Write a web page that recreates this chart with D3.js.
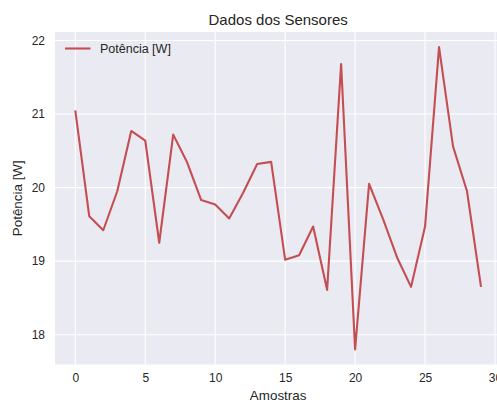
<!DOCTYPE html>
<html>
<head>
<meta charset="utf-8">
<script src="https://cdn.jsdelivr.net/npm/d3@7"></script>
<style>
  html, body { margin: 0; padding: 0; background: #ffffff; }
  svg { display: block; font-family: "Liberation Sans", Arial, sans-serif; }
</style>
</head>
<body>
<svg id="chart" width="497" height="403"></svg>
<script>
// Sensor readings: power per sample
const amostras = d3.range(0, 30);
const potencia = [
  21.05, 19.61, 19.42, 19.95, 20.77, 20.64, 19.25, 20.72, 20.34, 19.83,
  19.77, 19.58, 19.93, 20.32, 20.35, 19.02, 19.08, 19.47, 18.61, 21.68,
  17.80, 20.05, 19.57, 19.05, 18.65, 19.47, 21.91, 20.56, 19.95, 18.65
];
const xTicks = [0, 5, 10, 15, 20, 25, 30];
const yTicks = [18, 19, 20, 21, 22];
const titulo = "Dados dos Sensores";
const rotuloX = "Amostras";
const rotuloY = "Potência [W]";
const legenda = "Potência [W]";

const svg = d3.select("#chart");
const m = { left: 55, top: 32, right: 501.3, bottom: 364.5 };
const textColor = "#262626";

// axis limits with a 5% margin on each side, as in the plotting defaults
const xPad = (d3.max(amostras) - d3.min(amostras)) * 0.05;
const [yMin, yMax] = d3.extent(potencia);
const yPad = (yMax - yMin) * 0.05;

const x = d3.scaleLinear()
  .domain([d3.min(amostras) - xPad, d3.max(amostras) + xPad])
  .range([m.left, m.right]);
const y = d3.scaleLinear()
  .domain([yMin - yPad, yMax + yPad])
  .range([m.bottom, m.top]);

// axes background
svg.append("rect")
  .attr("x", m.left).attr("y", m.top)
  .attr("width", m.right - m.left).attr("height", m.bottom - m.top)
  .attr("fill", "#EAEAF2");

// white grid
const grid = svg.append("g").attr("stroke", "#ffffff").attr("stroke-width", 1.1);
grid.selectAll(".gx").data(xTicks).join("line")
  .attr("x1", d => x(d)).attr("x2", d => x(d))
  .attr("y1", m.top).attr("y2", m.bottom);
grid.selectAll(".gy").data(yTicks).join("line")
  .attr("x1", m.left).attr("x2", m.right)
  .attr("y1", d => y(d)).attr("y2", d => y(d));

// tick labels via d3 axes, with tick marks and domain removed
const xAxis = svg.append("g")
  .attr("transform", `translate(0,${m.bottom})`)
  .call(d3.axisBottom(x).tickValues(xTicks).tickSize(0).tickPadding(9).tickFormat(d3.format("d")));
const yAxis = svg.append("g")
  .attr("transform", `translate(${m.left},0)`)
  .call(d3.axisLeft(y).tickValues(yTicks).tickSize(0).tickPadding(10).tickFormat(d3.format("d")));
[xAxis, yAxis].forEach(a => {
  a.select(".domain").remove();
  a.selectAll("text")
    .attr("fill", textColor)
    .style("font-size", "12px")
    .style("font-family", "'Liberation Sans', Arial, sans-serif");
});

// data line
const line = d3.line()
  .x((d, i) => x(amostras[i]))
  .y(d => y(d));
svg.append("path")
  .datum(potencia)
  .attr("d", line)
  .attr("fill", "none")
  .attr("stroke", "#C44E52")
  .attr("stroke-width", 2.1)
  .attr("stroke-linejoin", "round")
  .attr("stroke-linecap", "butt");

// legend
svg.append("line")
  .attr("x1", 65).attr("x2", 90.5).attr("y1", 48.5).attr("y2", 48.5)
  .attr("stroke", "#C44E52").attr("stroke-width", 2.1);
svg.append("text")
  .attr("x", 100).attr("y", 53)
  .attr("fill", textColor)
  .style("font-size", "12.5px")
  .text(legenda);

// title and axis labels
svg.append("text")
  .attr("x", (m.left + m.right) / 2).attr("y", 25)
  .attr("text-anchor", "middle")
  .attr("fill", textColor)
  .style("font-size", "15px")
  .text(titulo);
svg.append("text")
  .attr("x", (m.left + m.right) / 2).attr("y", 400)
  .attr("text-anchor", "middle")
  .attr("fill", textColor)
  .style("font-size", "13.4px")
  .text(rotuloX);
svg.append("text")
  .attr("transform", `translate(22,${(m.top + m.bottom) / 2}) rotate(-90)`)
  .attr("text-anchor", "middle")
  .attr("fill", textColor)
  .style("font-size", "13.4px")
  .text(rotuloY);
</script>
</body>
</html>
